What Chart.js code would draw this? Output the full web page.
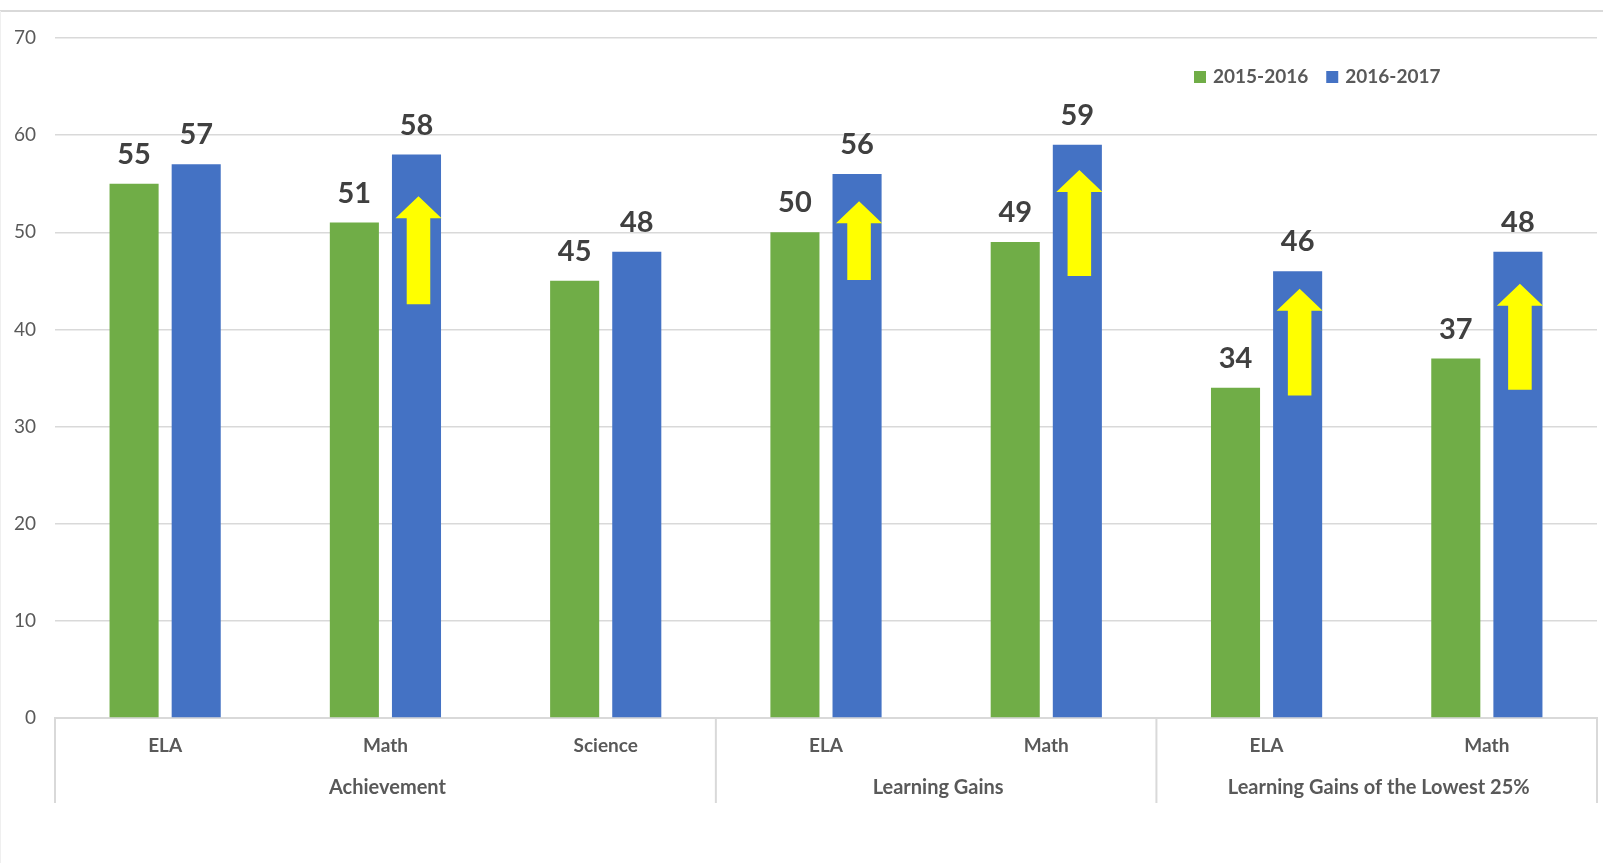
<!DOCTYPE html>
<html>
<head>
<meta charset="utf-8">
<script src="https://cdn.jsdelivr.net/npm/chart.js@4.4.0/dist/chart.umd.min.js"></script>
<style>
  body { margin: 0; background: #fff; }
  #wrap { width: 1603px; height: 863px; }
</style>
</head>
<body>
<div id="wrap"><canvas id="chart"></canvas></div>
<script>
// values
var categories = ['ELA', 'Math', 'Science', 'ELA', 'Math', 'ELA', 'Math'];
var groups = ['Achievement', 'Learning Gains', 'Learning Gains of the Lowest 25%'];
var groupSizes = [3, 2, 2];
var seriesNames = ['2015-2016', '2016-2017'];
var scores1516 = [55, 51, 45, 50, 49, 34, 37];
var scores1617 = [57, 58, 48, 56, 59, 46, 48];
var yMax = 70;
var yStep = 10;

// yellow arrows drawn on the 2016-2017 bars (category index, from value, to value)
var arrowIndex = [1, 3, 4, 5, 6];
var arrowFrom = [42.6, 45.1, 45.5, 33.2, 33.8];
var arrowTo = [53.7, 53.2, 56.4, 44.2, 44.7];

var green = '#70AD47';
var blue = '#4472C4';
var gridColor = '#d9d9d9';
var textColor = '#595959';
var font = 'Lato';

var decor = {
  id: 'decor',
  beforeDraw: function(chart) {
    var ctx = chart.ctx;
    ctx.save();
    ctx.fillStyle = '#fff';
    ctx.fillRect(0, 0, chart.width, chart.height);
    ctx.strokeStyle = gridColor;
    ctx.lineWidth = 2;
    ctx.beginPath();
    ctx.moveTo(0, 11);
    ctx.lineTo(chart.width, 11);
    ctx.stroke();
    ctx.strokeStyle = '#efefef';
    ctx.lineWidth = 1;
    ctx.beginPath();
    ctx.moveTo(0.5, 11);
    ctx.lineTo(0.5, chart.height);
    ctx.stroke();
    ctx.restore();
  },
  afterDatasetsDraw: function(chart) {
    var ctx = chart.ctx;
    var x = chart.scales.x, y = chart.scales.y;
    var area = chart.chartArea;
    ctx.save();

    // value labels
    ctx.font = 'bold 29px ' + font;
    ctx.fillStyle = '#404040';
    ctx.textAlign = 'center';
    ctx.textBaseline = 'alphabetic';
    chart.data.datasets.forEach(function(ds, di) {
      chart.getDatasetMeta(di).data.forEach(function(bar, i) {
        ctx.fillText(ds.data[i], bar.x, bar.y - 20);
      });
    });

    // arrows
    var meta = chart.getDatasetMeta(1);
    ctx.fillStyle = '#FFFF00';
    for (var k = 0; k < arrowIndex.length; k++) {
      var bar = meta.data[arrowIndex[k]];
      var cx = bar.x + 2;
      var w = bar.width;
      var top = y.getPixelForValue(arrowTo[k]);
      var bot = y.getPixelForValue(arrowFrom[k]);
      var hh = 22, hw = w * 0.47, sw = w * 0.24;
      ctx.beginPath();
      ctx.moveTo(cx, top);
      ctx.lineTo(cx + hw, top + hh);
      ctx.lineTo(cx + sw, top + hh);
      ctx.lineTo(cx + sw, bot);
      ctx.lineTo(cx - sw, bot);
      ctx.lineTo(cx - sw, top + hh);
      ctx.lineTo(cx - hw, top + hh);
      ctx.closePath();
      ctx.fill();
    }

    // group dividers and group labels
    ctx.strokeStyle = gridColor;
    ctx.lineWidth = 2;
    ctx.font = 'bold 20px ' + font;
    ctx.fillStyle = textColor;
    ctx.textBaseline = 'middle';
    var start = 0;
    var edges = [x.left];
    groupSizes.forEach(function(n, g) {
      var end = start + n - 1;
      var right = end === categories.length - 1 ? x.right :
        (x.getPixelForValue(end) + x.getPixelForValue(end + 1)) / 2;
      edges.push(right);
      ctx.fillText(groups[g], (edges[g] + right) / 2 + 2, area.bottom + 70);
      start += n;
    });
    edges.forEach(function(ex) {
      ctx.beginPath();
      ctx.moveTo(ex, area.bottom);
      ctx.lineTo(ex, area.bottom + 85);
      ctx.stroke();
    });

    // legend
    var lx = area.left + 1139, ly = area.top + 39;
    ctx.font = 'bold 19px ' + font;
    ctx.textAlign = 'left';
    chart.data.datasets.forEach(function(ds, di) {
      ctx.fillStyle = ds.backgroundColor;
      ctx.fillRect(lx, ly - 6, 12, 12);
      ctx.fillStyle = textColor;
      ctx.fillText(ds.label, lx + 19, ly);
      lx += 19 + ctx.measureText(ds.label).width + 18;
    });
    ctx.restore();
  }
};

new Chart(document.getElementById('chart'), {
  type: 'bar',
  data: {
    labels: categories,
    datasets: [
      { label: seriesNames[0], data: scores1516, backgroundColor: green },
      { label: seriesNames[1], data: scores1617, backgroundColor: blue }
    ]
  },
  options: {
    responsive: true,
    maintainAspectRatio: false,
    animation: false,
    layout: { padding: { top: 38, right: 6, left: 0, bottom: 0 } },
    datasets: { bar: { categoryPercentage: 0.564, barPercentage: 0.79 } },
    plugins: { legend: { display: false }, tooltip: { enabled: false } },
    scales: {
      x: {
        afterFit: function(s) { s.height = 145; },
        grid: { display: false, drawTicks: false },
        border: { display: true, color: gridColor, width: 2 },
        ticks: { color: textColor, font: { family: font, size: 19, weight: 'bold' }, padding: 16 }
      },
      y: {
        min: 0,
        max: yMax,
        afterFit: function(s) { s.width = 55; },
        grid: { color: gridColor, drawTicks: false, lineWidth: 1.5 },
        border: { display: false },
        ticks: { stepSize: yStep, color: textColor, font: { family: font, size: 19 }, padding: 19 }
      }
    }
  },
  plugins: [decor]
});
</script>
</body>
</html>
